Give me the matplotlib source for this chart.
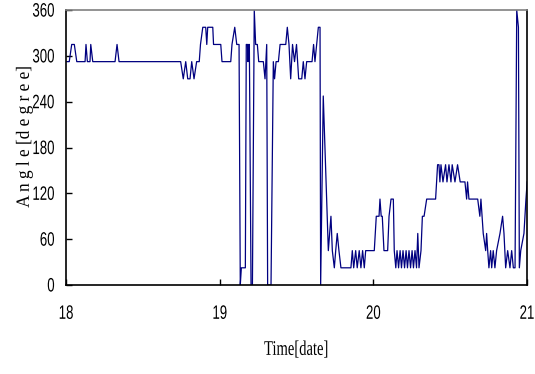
import matplotlib.pyplot as plt
from matplotlib.patheffects import AbstractPathEffect
from matplotlib.transforms import Affine2D

# wind direction record, time in days, angle in degrees (16-point compass)
days = [
    18.005, 18.021, 18.037, 18.054, 18.070, 18.124, 18.130, 18.139, 18.156, 18.161,
    18.174, 18.319, 18.332, 18.345, 18.746, 18.763, 18.779, 18.792, 18.807, 18.818,
    18.833, 18.850, 18.867, 18.875, 18.890, 18.909, 18.916, 18.922, 18.955, 18.960,
    19.007, 19.015, 19.072, 19.080, 19.098, 19.111, 19.126, 19.134, 19.141, 19.167,
    19.173, 19.181, 19.184, 19.189, 19.193, 19.204, 19.213, 19.225, 19.234, 19.245,
    19.254, 19.284, 19.295, 19.306, 19.312, 19.334, 19.349, 19.357, 19.367, 19.382,
    19.393, 19.430, 19.440, 19.451, 19.462, 19.474, 19.487, 19.500, 19.514, 19.534,
    19.544, 19.555, 19.566, 19.601, 19.611, 19.620, 19.642, 19.653, 19.657, 19.674,
    19.696, 19.703, 19.707, 19.724, 19.733, 19.746, 19.755, 19.765, 19.776, 19.789,
    19.854, 19.863, 19.872, 19.885, 19.895, 19.908, 19.919, 19.930, 19.941, 19.950,
    20.006, 20.019, 20.037, 20.043, 20.051, 20.058, 20.069, 20.093, 20.102, 20.115,
    20.130, 20.136, 20.146, 20.154, 20.164, 20.174, 20.183, 20.193, 20.203, 20.213,
    20.222, 20.232, 20.242, 20.252, 20.261, 20.271, 20.281, 20.289, 20.297, 20.310,
    20.319, 20.330, 20.347, 20.405, 20.418, 20.427, 20.433, 20.440, 20.453, 20.470,
    20.479, 20.492, 20.505, 20.513, 20.531, 20.548, 20.565, 20.596, 20.607, 20.613,
    20.622, 20.679, 20.693, 20.700, 20.715, 20.731, 20.737, 20.744, 20.752, 20.763,
    20.770, 20.780, 20.791, 20.802, 20.824, 20.841, 20.850, 20.861, 20.874, 20.889,
    20.900, 20.911, 20.922, 20.933, 20.944, 20.950, 20.959, 20.980, 20.993, 21.001,
]
angle = [
    292.5, 292.5, 315, 315, 292.5, 292.5, 315, 292.5, 292.5, 315,
    292.5, 292.5, 315, 292.5, 292.5, 270, 292.5, 270, 270, 292.5,
    270, 292.5, 292.5, 315, 337.5, 337.5, 315, 337.5, 337.5, 315,
    315, 292.5, 292.5, 315, 337.5, 315, 315, 0, 22.5, 22.5,
    315, 315, 292.5, 315, 315, 0, 0, 360, 315, 315,
    292.5, 292.5, 270, 315, 0, 0, 292.5, 270, 292.5, 292.5,
    315, 315, 337.5, 315, 270, 315, 292.5, 315, 270, 270,
    292.5, 270, 292.5, 292.5, 315, 292.5, 337.5, 337.5, 0, 247.5,
    112.5, 67.5, 45, 90, 45, 22.5, 45, 67.5, 45, 22.5,
    22.5, 45, 22.5, 45, 22.5, 45, 22.5, 45, 22.5, 45,
    45, 90, 90, 112.5, 90, 90, 45, 45, 90, 112.5,
    112.5, 45, 22.5, 45, 22.5, 45, 22.5, 45, 22.5, 45,
    22.5, 45, 22.5, 45, 22.5, 45, 22.5, 67.5, 22.5, 45,
    90, 90, 112.5, 112.5, 157.5, 157.5, 135, 157.5, 135, 157.5,
    135, 157.5, 135, 157.5, 135, 157.5, 135, 135, 112.5, 135,
    112.5, 112.5, 90, 112.5, 67.5, 45, 67.5, 45, 22.5, 45,
    22.5, 45, 22.5, 45, 67.5, 90, 67.5, 22.5, 45, 22.5,
    45, 22.5, 22.5, 360, 337.5, 22.5, 45, 67.5, 112.5, 135,
]


class Narrow(AbstractPathEffect):
    """Squeeze glyphs along the text direction, keeping one edge fixed."""

    def __init__(self, sx, anchor='center'):
        super().__init__()
        self.sx = sx
        self.anchor = anchor

    def draw_path(self, renderer, gc, tpath, affine, rgbFace=None):
        ext = tpath.get_extents()
        x0 = ext.x1 if self.anchor == 'right' else 0.5 * (ext.x0 + ext.x1)
        squeeze = Affine2D().translate(-x0, 0).scale(self.sx, 1).translate(x0, 0)
        renderer.draw_path(gc, tpath, squeeze + affine, rgbFace)


fig = plt.figure(figsize=(5.35, 3.74), dpi=100)
ax = fig.add_axes([0.1234, 0.238, 0.8617, 0.735])

ax.plot(days, angle, color='#000080', linewidth=0.9)

ax.set_xlim(18, 21)
ax.set_ylim(0, 360)
ax.set_xticks([18, 19, 20, 21])
ax.set_yticks([0, 60, 120, 180, 240, 300, 360])

ax.tick_params(axis='x', direction='in', length=4, width=1, pad=15, labelsize=14)
ax.tick_params(axis='y', direction='in', length=4, width=1, pad=8, labelsize=14)
for lab in ax.get_xticklabels():
    lab.set_family('Liberation Sans')
    lab.set_path_effects([Narrow(0.68, 'center')])
for lab in ax.get_yticklabels():
    lab.set_family('Liberation Sans')
    lab.set_path_effects([Narrow(0.68, 'right')])

for side in ['left', 'bottom', 'right']:
    ax.spines[side].set_linewidth(1.2)
    ax.spines[side].set_color('black')
ax.spines['top'].set_color('#808080')
ax.spines['top'].set_linewidth(1.2)

xl = ax.set_xlabel('Time[date]', family='Liberation Serif', fontsize=15, labelpad=13)
xl.set_path_effects([Narrow(0.7)])
yl = ax.set_ylabel('A n g l e [d e g r e e]', family='Liberation Serif', fontsize=13.5)
yl.set_path_effects([Narrow(0.92)])
ax.yaxis.set_label_coords(-0.072, 0.54)

fig.savefig('out.png', dpi=100)
